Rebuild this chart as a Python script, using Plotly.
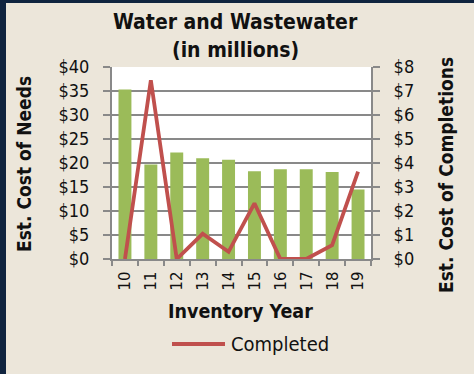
import plotly.graph_objects as go

# Inventory years and cost estimates (millions of dollars)
years = ["10", "11", "12", "13", "14", "15", "16", "17", "18", "19"]
needs = [35.3, 19.7, 22.2, 21.0, 20.7, 18.3, 18.7, 18.7, 18.1, 14.5]
completed = [0.0, 7.45, 0.0, 1.05, 0.3, 2.32, 0.0, 0.0, 0.58, 3.64]

needs_ticks = [0, 5, 10, 15, 20, 25, 30, 35, 40]
completion_ticks = [0, 1, 2, 3, 4, 5, 6, 7, 8]

W, H = 474, 374
ML, MR, MT, MB = 112, 103, 67, 115
PW, PH = W - ML - MR, H - MT - MB

FONT = "DejaVu Sans Condensed, DejaVu Sans, sans-serif"
BEIGE = "#ECE6DA"
NAVY = "#10243F"
GRID = "#898989"
TXT = "#111111"
LINE_RED = "#C0504D"


def fx(px):
    return (px - ML) / PW


def fy(py):
    return (H - MB - py) / PH


fig = go.Figure()
fig.add_trace(go.Bar(
    x=years, y=needs, name="Needs", marker_color="#9BBB59",
    marker_line_width=0, width=0.5, yaxis="y", showlegend=False,
))
fig.add_trace(go.Scatter(
    x=years, y=completed, name="Completed", mode="lines",
    line=dict(color=LINE_RED, width=3.8), yaxis="y2", showlegend=False,
))

fig.update_layout(
    width=W, height=H,
    margin=dict(l=ML, r=MR, t=MT, b=MB, pad=0),
    paper_bgcolor=BEIGE, plot_bgcolor="white",
    font=dict(family=FONT, size=18, color=TXT),
    xaxis=dict(
        type="category", tickangle=-90, showgrid=False,
        showline=True, linecolor=GRID, linewidth=2,
        ticks="outside", tickson="boundaries", ticklen=5,
        tickcolor=GRID, tickwidth=2, ticklabelstandoff=4,
        tickfont=dict(size=16.5),
    ),
    yaxis=dict(
        range=[0, 40], tickvals=needs_ticks,
        ticktext=[f"${v}" for v in needs_ticks],
        showgrid=True, gridcolor=GRID, gridwidth=2,
        showline=True, linecolor=GRID, linewidth=2,
        ticks="outside", ticklen=7, tickcolor=GRID, tickwidth=2,
        ticklabelstandoff=10, zeroline=False,
    ),
    yaxis2=dict(
        range=[0, 8], tickvals=completion_ticks,
        ticktext=[f"${v}" for v in completion_ticks],
        overlaying="y", side="right", showgrid=False,
        showline=True, linecolor=GRID, linewidth=2,
        ticks="outside", ticklen=7, tickcolor=GRID, tickwidth=2,
        ticklabelstandoff=10, zeroline=False,
    ),
    showlegend=False,
)

annotations = [
    dict(text="<b>Water and Wastewater</b>", x=fx(235), y=fy(22), size=21),
    dict(text="<b>(in millions)</b>", x=fx(235), y=fy(50), size=21),
    dict(text="<b>Inventory Year</b>", x=fx(240), y=fy(311), size=19.5),
    dict(text="<b>Est. Cost of Needs</b>", x=fx(24), y=fy(164), size=19, textangle=-90),
    dict(text="<b>Est. Cost of Completions</b>", x=fx(446), y=fy(175), size=19, textangle=-90),
]
for a in annotations:
    size = a.pop("size")
    fig.add_annotation(
        xref="paper", yref="paper", showarrow=False,
        xanchor="center", yanchor="middle",
        font=dict(family=FONT, size=size, color=TXT), **a,
    )

# Legend key for the completions line
fig.add_shape(type="line", xref="paper", yref="paper",
              x0=fx(172), x1=fx(225), y0=fy(344), y1=fy(344),
              line=dict(color=LINE_RED, width=3.8))
fig.add_annotation(xref="paper", yref="paper", showarrow=False,
                   text="Completed", x=fx(229), y=fy(344),
                   xanchor="left", yanchor="middle",
                   font=dict(family=FONT, size=20, color=TXT))

# Dark frame strips along the left and top edges
fig.add_shape(type="rect", xref="paper", yref="paper",
              x0=fx(0), x1=fx(6), y0=fy(H), y1=fy(0),
              fillcolor=NAVY, line_width=0)
fig.add_shape(type="rect", xref="paper", yref="paper",
              x0=fx(0), x1=fx(W), y0=fy(3), y1=fy(0),
              fillcolor=NAVY, line_width=0)

fig.write_html("out.html")
